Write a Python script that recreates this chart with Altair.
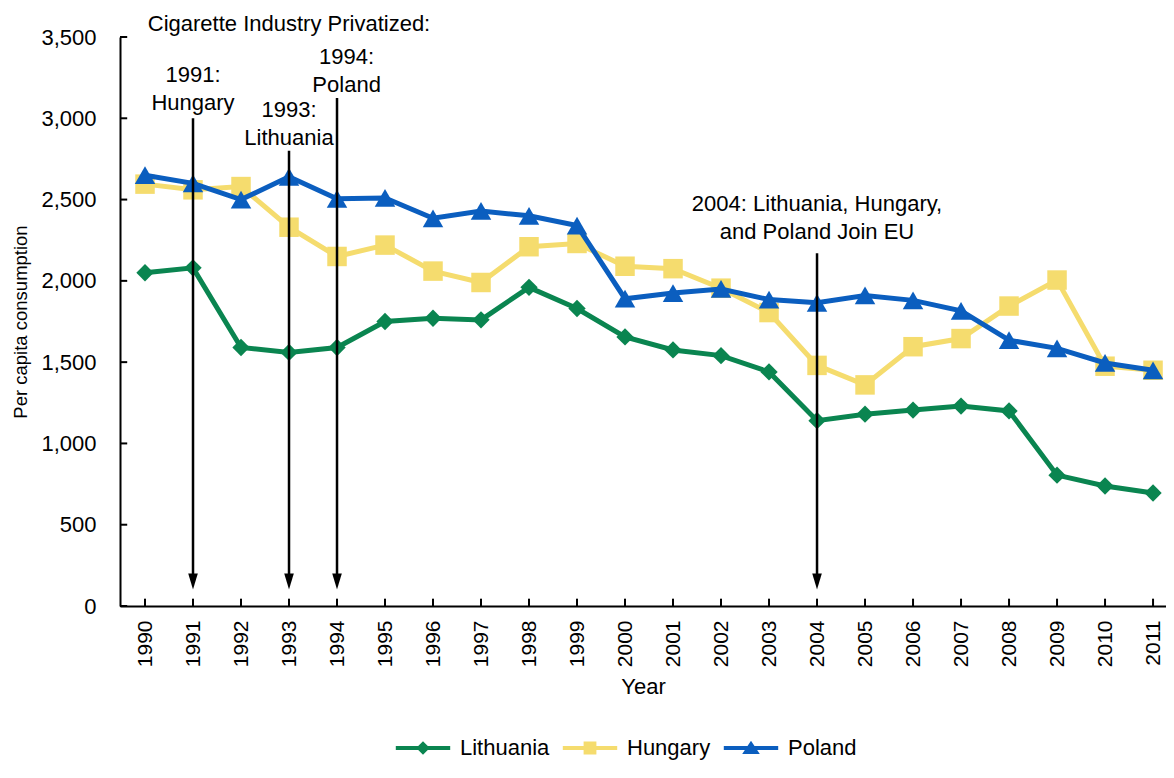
import altair as alt
import pandas as pd

# ---------------- data ----------------
years = list(range(1990, 2012))
countries = ["Lithuania", "Hungary", "Poland"]
lithuania = [2050, 2080, 1590, 1560, 1590, 1750, 1770, 1760, 1960, 1830, 1655,
             1575, 1540, 1440, 1140, 1180, 1205, 1230, 1200, 805, 738, 695]
hungary = [2595, 2560, 2580, 2330, 2150, 2220, 2060, 1990, 2210, 2230, 2090,
           2075, 1955, 1805, 1480, 1360, 1595, 1645, 1845, 2005, 1475, 1450]
poland = [2650, 2600, 2500, 2640, 2505, 2510, 2385, 2430, 2400, 2340, 1890,
          1925, 1950, 1885, 1865, 1910, 1880, 1815, 1635, 1585, 1495, 1450]

colors = ["#0a8550", "#f5dc6e", "#0b5ebf"]
marker_shapes = ["diamond", "square", "triangle-up"]
marker_sizes = [300, 380, 420]

arrow_years = [1991, 1993, 1994, 2004]
arrow_tops = [3000, 2800, 3125, 2170]
arrow_heads = [150, 150, 150, 150]

note_texts = ["Cigarette Industry Privatized:", "1991:\nHungary", "1993:\nLithuania",
              "1994:\nPoland", "2004: Lithuania, Hungary,\nand Poland Join EU"]
note_x = [1993.0, 1991.0, 1993.0, 1994.2, 2004.0]
note_y = [3580, 3266, 3051, 3377, 2473]

y_ticks = list(range(0, 3501, 500))
X_MIN, X_MAX = 1989.479, 2011.27
Y_MAX = 3500

# legend symbols: a line segment with the marker in the middle
legend_paths = [
    "M-3.4,-0.25H3.4V0.25H-3.4Z M0,-0.85L0.85,0L0,0.85L-0.85,0Z",
    "M-3.4,-0.25H3.4V0.25H-3.4Z M-0.8,-0.8H0.8V0.8H-0.8Z",
    "M-3.4,-0.25H3.4V0.25H-3.4Z M0,-0.9L1.1,0.75L-1.1,0.75Z",
]

FONT = "Liberation Sans"

# ---------------- tables ----------------
rows = []
for c, vals in zip(countries, [lithuania, hungary, poland]):
    for yr, v in zip(years, vals):
        rows.append({"country": c, "year": yr, "value": v})
df = pd.DataFrame(rows)

arrow_df = pd.DataFrame({"year": arrow_years, "top": arrow_tops, "head": arrow_heads})
note_df = pd.DataFrame({"text": note_texts, "x": note_x, "y": note_y})
xtick_df = pd.DataFrame({"year": years, "y0": [0] * len(years), "y1": [45] * len(years)})
ytick_df = pd.DataFrame({"v": y_ticks, "x0": [X_MIN] * len(y_ticks),
                         "x1": [X_MIN + 0.15] * len(y_ticks)})

x_scale = alt.Scale(domain=[X_MIN, X_MAX], nice=False, zero=False)
y_scale = alt.Scale(domain=[0, Y_MAX], nice=False)
color_scale = alt.Scale(domain=countries, range=colors)

x_axis = alt.Axis(values=years, format="d", labelAngle=270, labelPadding=14,
                  labelFontSize=21, titlePadding=10, ticks=False, titleFontSize=22)
y_axis = alt.Axis(values=y_ticks, format=",.0f", labelPadding=24, titlePadding=10,
                  labelFontSize=22, ticks=False, titleFontSize=18.5)


def X(field):
    return alt.X(field, scale=x_scale, axis=x_axis, title="Year")


def Y(field):
    return alt.Y(field, scale=y_scale, axis=y_axis, title="Per capita consumption")


leg = alt.Legend(orient="none", legendX=273, legendY=700, direction="horizontal",
                 title=None, symbolSize=256, symbolOffset=19, labelOffset=26,
                 labelFont=FONT, labelFontSize=22, labelColor="black",
                 symbolStrokeWidth=0, columnPadding=10, padding=0)
legend_layer = alt.Chart(df).transform_filter("false").mark_point(
    filled=True, opacity=1, strokeWidth=0).encode(
    x=X("year:Q"), y=Y("value:Q"),
    color=alt.Color("country:N", scale=color_scale, legend=leg),
    shape=alt.Shape("country:N", scale=alt.Scale(domain=countries, range=legend_paths),
                    legend=leg))

layers = [legend_layer]
for c, shp, sz in zip(countries, marker_shapes, marker_sizes):
    sub = alt.Chart(df).transform_filter(alt.datum.country == c)
    line = sub.mark_line(strokeWidth=5).encode(
        x=X("year:Q"), y=Y("value:Q"),
        color=alt.Color("country:N", scale=color_scale))
    pts = sub.mark_point(shape=shp, size=sz, filled=True, opacity=1, strokeWidth=0).encode(
        x=X("year:Q"), y=Y("value:Q"),
        color=alt.Color("country:N", scale=color_scale))
    layers += [line, pts]

xticks = alt.Chart(xtick_df).mark_rule(color="black", strokeWidth=2).encode(
    x=X("year:Q"), y=Y("y0:Q"), y2="y1:Q")
yticks = alt.Chart(ytick_df).mark_rule(color="black", strokeWidth=2).encode(
    y=Y("v:Q"), x=X("x0:Q"), x2="x1:Q")

shafts = alt.Chart(arrow_df).mark_rule(color="black", strokeWidth=2.5).encode(
    x=X("year:Q"), y=Y("top:Q"), y2="head:Q")
heads = alt.Chart(arrow_df).mark_point(shape="M-0.6,-1L0.6,-1L0,1Z", filled=True,
                                       color="black", opacity=1, size=256,
                                       strokeWidth=0).encode(
    x=X("year:Q"), y=Y("head:Q"))

notes = alt.Chart(note_df).mark_text(font=FONT, fontSize=22, lineBreak="\n",
                                     lineHeight=28, align="center", baseline="middle",
                                     color="black").encode(
    x=X("x:Q"), y=Y("y:Q"), text="text:N")

chart = alt.layer(*layers, xticks, yticks, shafts, heads, notes).properties(
    width=1046, height=569,
    autosize=alt.AutoSizeParams(type="none"),
    padding={"left": 112, "top": 29, "right": 0, "bottom": 160},
).configure_view(stroke=None).configure_axis(
    grid=False, domainColor="black", domainWidth=2,
    labelFont=FONT, labelColor="black",
    titleFont=FONT, titleFontWeight="normal", titleColor="black",
)

chart.save("out.html", embed_options={"renderer": "svg", "actions": False})
